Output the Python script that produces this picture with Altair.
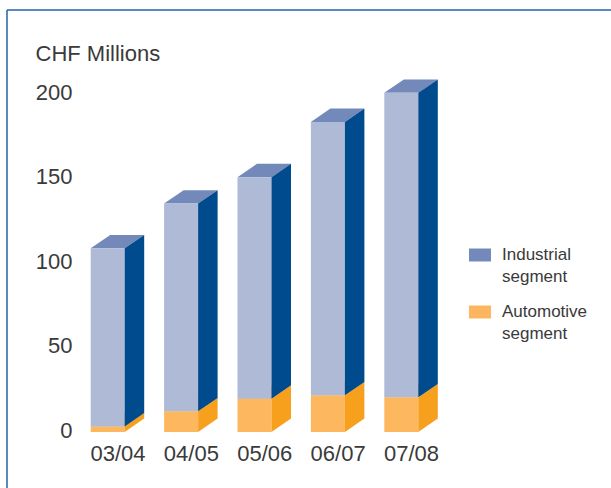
import json
import altair as alt
import pandas as pd

# ---- data ----
categories = ["03/04", "04/05", "05/06", "06/07", "07/08"]
automotive = [3.3, 12.2, 19.7, 21.7, 20.5]
industrial = [105.3, 122.9, 131.0, 161.7, 180.1]
segments = ["Industrial segment", "Automotive segment"]
y_ticks = [0, 50, 100, 150, 200]

# ---- style / geometry ----
FONT = "Liberation Sans"
TXT = "#3a3a3a"
front_col = {"Industrial segment": "#AEBAD6", "Automotive segment": "#FDB75E"}
side_col = {"Industrial segment": "#004B8D", "Automotive segment": "#F7A01E"}
legend_col = ["#7389BA", "#FDB660"]
HW = 0.2316   # half width of the bar front (x units)
DX = 0.2657   # depth offset in x units
DY = 7.92     # depth offset in y units
W, H = 367, 372

front_rows, side_rows, top_rows = [], [], []
for i, cat in enumerate(categories):
    stack = [("Automotive segment", 0.0, automotive[i]),
             ("Industrial segment", automotive[i], automotive[i] + industrial[i])]
    for seg, lo, hi in stack:
        fid = f"{cat}-{seg}"
        front_rows.append(dict(cat=cat, seg=seg, x=i - HW, x2=i + HW, lo=lo, hi=hi,
                               fc=front_col[seg]))
        side_rows.append(dict(fid=fid, seg=seg, x=i + HW, lo=lo, hi=hi, fc=side_col[seg]))
        side_rows.append(dict(fid=fid, seg=seg, x=i + HW + DX, lo=lo + DY, hi=hi + DY,
                              fc=side_col[seg]))
        top_rows.append(dict(fid=fid, seg=seg, y=hi, x=i - HW, x2=i + HW))
        top_rows.append(dict(fid=fid, seg=seg, y=hi + DY, x=i - HW + DX, x2=i + HW + DX))

front_df = pd.DataFrame(front_rows)
side_df = pd.DataFrame(side_rows)
top_df = pd.DataFrame(top_rows)

xscale = alt.Scale(domain=[-0.5, len(categories) - 0.5], nice=False, zero=False)
yscale = alt.Scale(domain=[0, 220], nice=False)

label_vals = [i + DX / 2 for i in range(len(categories))]
x_axis = alt.Axis(values=label_vals, labelExpr=f"{json.dumps(categories)}[round(datum.value)]",
                  title=None, domain=False, ticks=False, grid=False, tickSize=0,
                  labelFontSize=22, labelFont=FONT, labelColor=TXT, labelPadding=11,
                  labelBaseline="top")
y_axis = alt.Axis(values=y_ticks, title="CHF Millions", titleAngle=0, titleAlign="left",
                  titleBaseline="alphabetic", titleX=-36, titleY=0, titleFont=FONT,
                  titleFontSize=22, titleFontWeight="normal", titleColor=TXT,
                  domain=False, ticks=False, grid=False, tickSize=0, labelPadding=-1,
                  labelOffset=-1.5,
                  labelFontSize=22, labelFont=FONT, labelColor=TXT)

top = alt.Chart(top_df).mark_area(orient="horizontal").encode(
    y=alt.Y("y:Q", scale=yscale, axis=y_axis),
    x=alt.X("x:Q", scale=xscale, axis=x_axis, stack=None),
    x2="x2:Q",
    detail="fid:N",
    color=alt.Color("seg:N", scale=alt.Scale(domain=segments, range=legend_col),
                    legend=alt.Legend(title=None, orient="none", legendX=398, legendY=184,
                                      symbolType="M-1,-0.59H1V0.59H-1Z", symbolSize=484,
                                      symbolStrokeWidth=0, labelFont=FONT, labelFontSize=17,
                                      labelColor=TXT, labelLimit=200, labelOffset=11,
                                      labelBaseline="middle",
                                      labelExpr="split(datum.label, ' ')",
                                      rowPadding=16, padding=0)),
)

front = alt.Chart(front_df).mark_rect(strokeWidth=0).encode(
    x=alt.X("x:Q", scale=xscale, axis=x_axis),
    x2="x2:Q",
    y=alt.Y("lo:Q", scale=yscale, axis=y_axis),
    y2="hi:Q",
    fill=alt.Fill("fc:N", scale=None),
)

side = alt.Chart(side_df).mark_area(orient="vertical").encode(
    x=alt.X("x:Q", scale=xscale, axis=x_axis),
    y=alt.Y("lo:Q", scale=yscale, axis=y_axis, stack=None),
    y2="hi:Q",
    detail="fid:N",
    fill=alt.Fill("fc:N", scale=None),
)

one = pd.DataFrame({"a": [0]})
frame_top = alt.Chart(one).mark_rule(color="#2461A8", strokeWidth=1.5).encode(
    x=alt.value(-64), x2=alt.value(600), y=alt.value(-50))
frame_left = alt.Chart(one).mark_rule(color="#2461A8", strokeWidth=1.5).encode(
    x=alt.value(-64), y=alt.value(-50), y2=alt.value(460))

chart = alt.layer(frame_top, frame_left, top, front, side).properties(
    width=W, height=H,
    autosize=alt.AutoSizeParams(type="none"),
    padding={"left": 71, "top": 60, "right": 611 - 71 - W, "bottom": 488 - 60 - H},
    background="white",
).configure(style={"guide-label": {"lineHeight": 22}}).configure_view(stroke=None)

chart.save("out.html", embed_options={"renderer": "svg", "actions": False})
